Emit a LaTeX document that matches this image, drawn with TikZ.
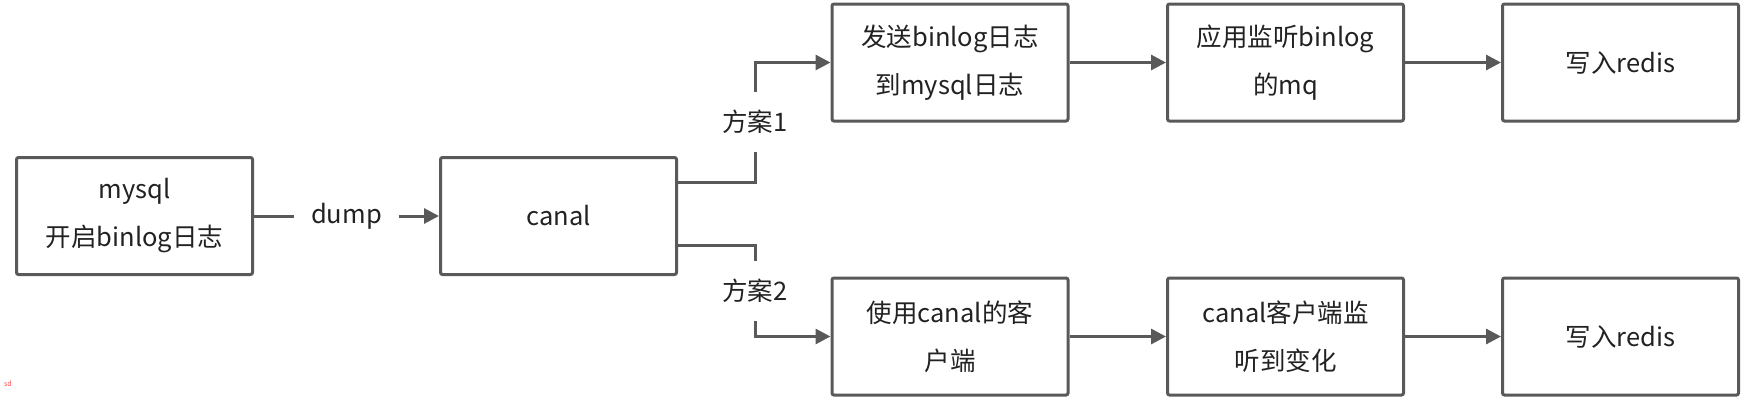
\documentclass[tikz,border=0pt]{standalone}
\usepackage{fontspec}
\setmainfont{Noto Sans CJK SC}
\usetikzlibrary{arrows.meta,calc}
\definecolor{lc}{HTML}{595959}
\definecolor{tc}{HTML}{222222}
\tikzset{
  box/.style={draw=lc, line width=3pt, rounded corners=2pt, minimum width=236pt, minimum height=117pt,
    align=center, font=\fontsize{25.5}{48}\selectfont, text=tc, inner sep=0pt, fill=white},
  arr/.style={draw=lc, line width=3pt, -{Triangle[length=15pt,width=15pt]}},
  ln/.style={draw=lc, line width=3pt},
  lbl/.style={fill=white, font=\fontsize{25.5}{30}\selectfont, text=tc, inner ysep=18pt, inner xsep=6pt}
}
\begin{document}
\begin{tikzpicture}[x=1pt,y=-1pt]
\useasboundingbox (0,0) rectangle (1756,400);
\node[box] (mysql) at (134.5,216) {mysql\\开启binlog日志};
\node[box] (canal) at (558.5,216) {canal};
\node[box] (t1) at (950,62.5) {发送binlog日志\\到mysql日志};
\node[box] (t2) at (1285.5,62.5) {应用监听binlog\\的mq};
\node[box] (t3) at (1620.5,62.5) {写入redis};
\node[box] (b1) at (950,336.5) {使用canal的客\\户端};
\node[box] (b2) at (1285.5,336.5) {canal客户端监\\听到变化};
\node[box] (b3) at (1620.5,336.5) {写入redis};
\draw[arr] (mysql) -- node[lbl, inner xsep=17pt, inner ysep=10pt] {dump} (canal);
\coordinate (s1) at ([yshift=34pt]canal.east);
\coordinate (s2) at ([yshift=-29pt]canal.east);
\coordinate (e1) at ($(s1)+(77,0)$);
\coordinate (e2) at ($(s2)+(77,0)$);
\draw[arr] (s1) -- (e1) |- node[lbl, pos=0.25] {方案1} (t1.west);
\draw[arr] (s2) -- (e2) |- node[lbl, pos=0.25] {方案2} (b1.west);
\draw[arr] (t1) -- (t2);
\draw[arr] (t2) -- (t3);
\draw[arr] (b1) -- (b2);
\draw[arr] (b2) -- (b3);
\node[text=red!70, font=\fontsize{7}{8}\selectfont, inner sep=0pt] (sd) at (8,384) {sd};
\end{tikzpicture}
\end{document}
